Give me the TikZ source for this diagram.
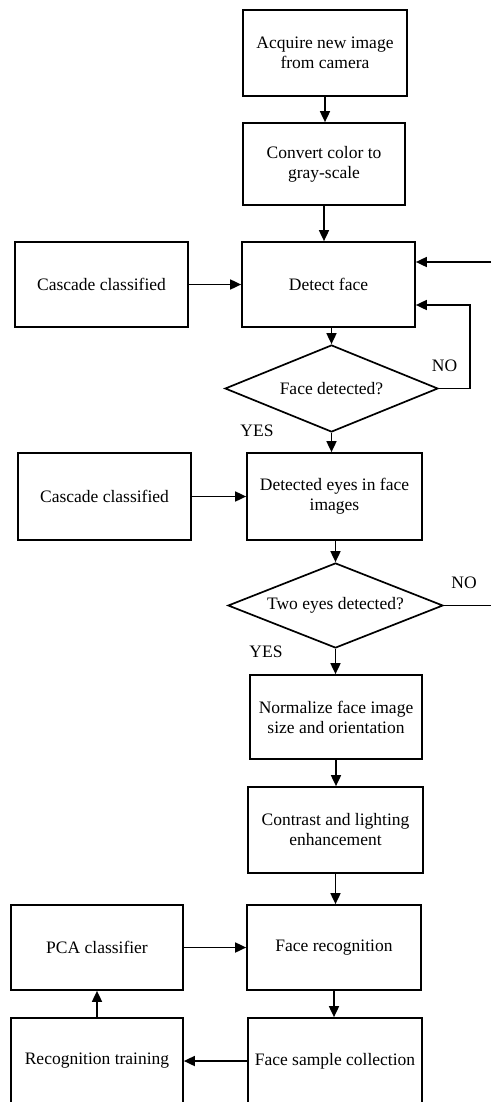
\documentclass[tikz,border=0pt]{standalone}
\usepackage{fontspec}
\setmainfont{Liberation Serif}
\usetikzlibrary{shapes.geometric,arrows.meta}
\begin{document}
\begin{tikzpicture}[x=1pt,y=-1pt,
  every node/.style={font=\fontsize{17.5}{20}\selectfont},
  box/.style={draw, line width=1.7pt, inner sep=0pt, align=center},
  decision/.style={draw, diamond, line width=1.7pt, inner sep=0pt},
  flow/.style={line width=1.7pt, -{Triangle[length=11pt,width=10pt]}},
  plain/.style={line width=1.7pt},
  tag/.style={inner sep=0pt}]
\path[use as bounding box, clip] (0,0) rectangle (491,1102);

% main column
\node[box, minimum width=164pt, minimum height=86pt] (acq) at (325,53) {Acquire new image\\from camera};
\node[box, minimum width=162pt, minimum height=82pt] (gray) at (324,164) {Convert color to\\gray-scale};
\node[box, minimum width=173pt, minimum height=85pt] (face) at (328.5,284.5) {Detect face};
\node[decision, minimum width=213pt, minimum height=87pt] (fd) at (331.5,388.5) {\makebox[0pt]{Face detected?}};
\node[box, minimum width=175pt, minimum height=87pt] (eyes) at (334.5,496.5) {Detected eyes in face\\images};
\node[decision, minimum width=215pt, minimum height=85pt] (ed) at (335.5,605.5) {\makebox[0pt]{Two eyes detected?}};
\node[box, minimum width=172pt, minimum height=84pt] (norm) at (336,717) {Normalize face image\\size and orientation};
\node[box, minimum width=175pt, minimum height=86pt] (light) at (335.5,830) {Contrast and lighting\\enhancement};
\node[box, minimum width=174pt, minimum height=85pt] (recog) at (334,947.5) {Face recognition};
\node[box, minimum width=174pt, minimum height=86pt] (sample) at (335,1061) {Face sample collection};

% left column
\node[box, minimum width=173pt, minimum height=85pt] (casc1) at (101.5,284.5) {Cascade classified};
\node[box, minimum width=173pt, minimum height=87pt] (casc2) at (104.5,496.5) {Cascade classified};
\node[box, minimum width=172pt, minimum height=85pt] (pca) at (97,947.5) {PCA classifier};
\node[box, minimum width=172pt, minimum height=86pt] (train) at (97,1061) {Recognition training};

% branch labels
\node[tag] (no1) at (444.5,366) {NO};
\node[tag] (yes1) at (257,431) {YES};
\node[tag] (no2) at (464,583) {NO};
\node[tag] (yes2) at (266,652) {YES};

% free ends at the right edge
\coordinate (back) at (491,262);
\coordinate (loop) at (470,305);
\coordinate (exit) at (491,605.5);

% connectors
\draw[flow] (acq.south) -- (acq.south |- gray.north);
\draw[flow] (gray.south) -- (gray.south |- face.north);
\draw[flow] (fd.north |- face.south) -- (fd.north);
\draw[flow] (fd.south) -- (fd.south |- eyes.north);
\draw[flow] (ed.north |- eyes.south) -- (ed.north);
\draw[flow] (ed.south) -- (ed.south |- norm.north);
\draw[flow] (norm.south) -- (norm.south |- light.north);
\draw[flow] (light.south) -- (light.south |- recog.north);
\draw[flow] (recog.south) -- (recog.south |- sample.north);

\draw[flow] (casc1.east) -- (face.west);
\draw[flow] (casc2.east) -- (casc2.east -| eyes.west);
\draw[flow] (pca.east) -- (recog.west);
\draw[flow] (sample.west) -- (train.east);
\draw[flow] (train.north) -- (pca.south);

\draw[flow] (fd.east) -| (loop) -- (loop -| face.east);
\draw[flow] (back) -- (back -| face.east);
\draw[plain] (ed.east) -- (exit);
\end{tikzpicture}
\end{document}
